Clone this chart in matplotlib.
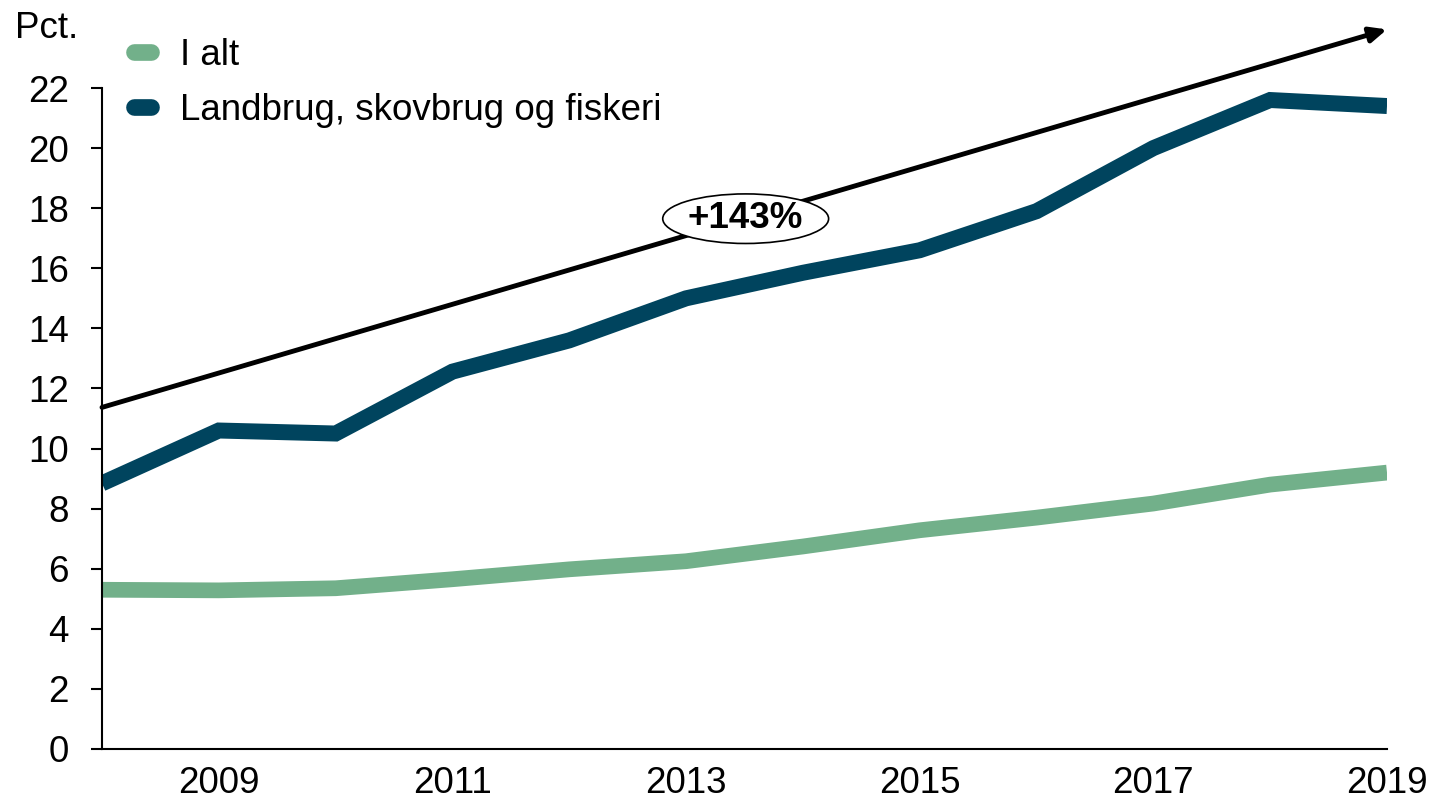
import matplotlib
matplotlib.use("Agg")
import matplotlib.pyplot as plt
from matplotlib.patches import Ellipse

plt.rcParams['font.family'] = ['Liberation Sans', 'DejaVu Sans']

years = [2008, 2009, 2010, 2011, 2012, 2013, 2014, 2015, 2016, 2017, 2018, 2019]
i_alt = [5.3, 5.28, 5.35, 5.65, 5.98, 6.25, 6.74, 7.28, 7.7, 8.17, 8.8, 9.2]
landbrug = [8.84, 10.6, 10.5, 12.56, 13.6, 15.0, 15.85, 16.6, 17.9, 20.0, 21.6, 21.4]
series_names = ["I alt", "Landbrug, skovbrug og fiskeri"]
xtick_years = [2009, 2011, 2013, 2015, 2017, 2019]
yticks = list(range(0, 23, 2))
arrow_start = (2008, 11.37)
arrow_end = (2019, 23.95)
growth_label = "+143%"
label_pos = (2013.51, 17.65)

green = "#72b08a"
dark = "#00445e"
FS = 26.5

fig = plt.figure(figsize=(14.35, 7.98), dpi=100)
ax = fig.add_axes([102/1435, 1-749/798, (1387-102)/1435, (749-88)/798])

ax.plot(years, i_alt, color=green, lw=11.3, solid_joinstyle='round', solid_capstyle='butt', label=series_names[0])
ax.plot(years, landbrug, color=dark, lw=11.5, solid_joinstyle='miter', solid_capstyle='butt', label=series_names[1])

ax.set_xlim(2008, 2019)
ax.set_ylim(0, 22)
ax.set_yticks(yticks)
ax.set_xticks(xtick_years)
ax.tick_params(axis='y', direction='out', length=8, width=1.5, labelsize=FS, pad=16)
ax.tick_params(axis='x', length=0, labelsize=FS, pad=12)
for s in ['top', 'right']:
    ax.spines[s].set_visible(False)
for s in ['left', 'bottom']:
    ax.spines[s].set_linewidth(1.5)

ax.annotate("", xy=arrow_end, xytext=arrow_start, xycoords='data', textcoords='data',
            arrowprops=dict(arrowstyle='-|>,head_length=1.0,head_width=0.45', lw=3.5, color='black',
                            shrinkA=0, shrinkB=0), annotation_clip=False)
ax.add_patch(Ellipse(label_pos, width=1.42, height=1.65, facecolor='white', edgecolor='black', lw=1.2, zorder=5))
ax.text(label_pos[0], label_pos[1], growth_label, ha='center', va='center', fontsize=FS, fontweight='bold',
        zorder=6)

fig.text(15/1435, 1-28/798, "Pct.", fontsize=FS, ha='left', va='center')

leg = ax.legend(loc='upper left', bbox_to_anchor=(134/1435, 1-38/798), bbox_transform=fig.transFigure,
                frameon=False, fontsize=FS, handlelength=0.45, handletextpad=0.8, labelspacing=0.55,
                borderaxespad=0, borderpad=0)
for line in leg.get_lines():
    line.set_solid_capstyle('round')
    line.set_linewidth(12)

fig.savefig("out.png", dpi=100)
